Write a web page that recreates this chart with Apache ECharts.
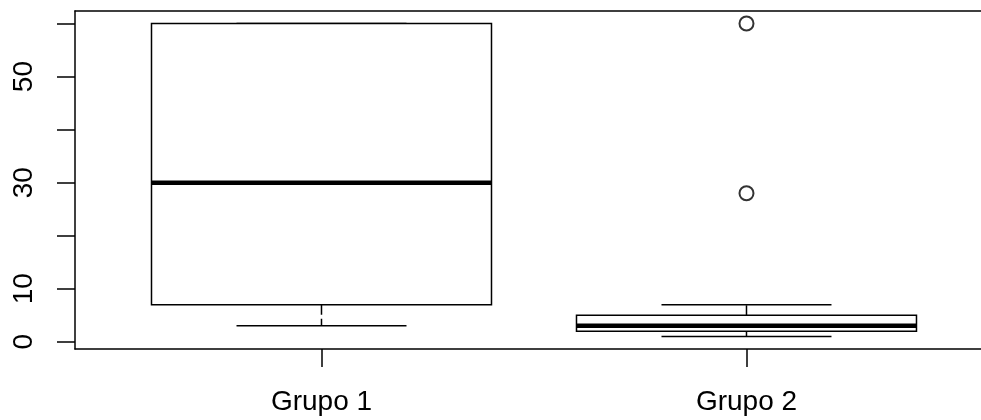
<!DOCTYPE html>
<html>
<head>
<meta charset="utf-8">
<script src="https://cdn.jsdelivr.net/npm/echarts@6/dist/echarts.min.js"></script>
<style>html,body{margin:0;padding:0;background:#fff}#c{width:981px;height:420px}</style>
</head>
<body>
<div id="c"></div>
<script>
const categories = ['Grupo 1', 'Grupo 2'];
const whiskerLow = [3, 1];
const q1 = [7, 2];
const median = [30, 3];
const q3 = [60, 5];
const whiskerHigh = [60, 7];
const outlierGroup = [2, 2];
const outlierValue = [60, 28];
const yTicks = [0, 10, 20, 30, 40, 50, 60];
const yTickLabels = [0, 10, 30, 50];

const boxData = categories.map((c, i) => [i + 1, whiskerLow[i], q1[i], median[i], q3[i], whiskerHigh[i]]);
const outData = outlierGroup.map((g, i) => [g, outlierValue[i]]);

const chart = echarts.init(document.getElementById('c'), null, {renderer: 'canvas'});
const font = '"Liberation Sans", Arial, sans-serif';
const BOXW = 0.8;

function renderBox(params, api) {
  const x = api.value(0);
  const lo = api.value(1), b1 = api.value(2), md = api.value(3), b3 = api.value(4), hi = api.value(5);
  const pL = api.coord([x - BOXW / 2, b1]);
  const pR = api.coord([x + BOXW / 2, b3]);
  const pc = api.coord([x, md]);
  const cL = api.coord([x - BOXW / 4, lo])[0];
  const cR = api.coord([x + BOXW / 4, lo])[0];
  const yLo = api.coord([x, lo])[1];
  const yHi = api.coord([x, hi])[1];
  const y1 = pL[1], y3 = pR[1];
  const ls = {stroke: '#000', lineWidth: 1.5, fill: null};
  const children = [];
  if (yHi < y3) children.push({type: 'line', shape: {x1: pc[0], y1: y3, x2: pc[0], y2: yHi}, style: Object.assign({}, ls, {lineDash: [10, 4]})});
  if (yLo > y1) children.push({type: 'line', shape: {x1: pc[0], y1: y1, x2: pc[0], y2: yLo}, style: Object.assign({}, ls, {lineDash: [10, 4]})});
  children.push({type: 'line', shape: {x1: cL, y1: yHi, x2: cR, y2: yHi}, style: ls});
  children.push({type: 'line', shape: {x1: cL, y1: yLo, x2: cR, y2: yLo}, style: ls});
  children.push({type: 'rect', shape: {x: pL[0], y: y3, width: pR[0] - pL[0], height: y1 - y3}, style: {stroke: '#000', lineWidth: 1.5, fill: '#fff'}});
  children.push({type: 'line', shape: {x1: pL[0], y1: pc[1], x2: pR[0], y2: pc[1]}, style: {stroke: '#000', lineWidth: 4.5}});
  return {type: 'group', children: children};
}

const axisLineStyle = {show: true, onZero: false, lineStyle: {color: '#000', width: 1.5}};

chart.setOption({
  animation: false,
  backgroundColor: '#fff',
  grid: {left: 75, top: 11, right: 0, bottom: 71, show: false},
  xAxis: [{
    type: 'value', min: 0.42, max: 2.5518, position: 'bottom',
    axisLine: axisLineStyle,
    splitLine: {show: false},
    axisTick: {show: true, length: 18, lineStyle: {color: '#000', width: 1.5}, customValues: [1, 2]},
    axisLabel: {customValues: [1, 2], formatter: v => categories[Math.round(v) - 1], fontFamily: font, fontSize: 28, color: '#000', margin: 39}
  }, {
    type: 'value', min: 0.42, max: 2.5518, position: 'top',
    axisLine: axisLineStyle,
    splitLine: {show: false}, axisTick: {show: false}, axisLabel: {show: false}
  }],
  yAxis: {
    type: 'value', min: -1.36, max: 62.36, position: 'left',
    axisLine: axisLineStyle,
    splitLine: {show: false},
    axisTick: {show: true, length: 18, lineStyle: {color: '#000', width: 1.5}, customValues: yTicks},
    axisLabel: {customValues: yTickLabels, rotate: 90, fontFamily: font, fontSize: 28, color: '#000', margin: 37}
  },
  series: [
    {type: 'custom', renderItem: renderBox, data: boxData, encode: {x: 0, y: [1, 2, 3, 4, 5]}, z: 2},
    {type: 'scatter', data: outData, symbol: 'emptyCircle', symbolSize: 14, itemStyle: {color: '#000', borderWidth: 2, borderColor: '#000'}, z: 3}
  ]
});
</script>
</body>
</html>
